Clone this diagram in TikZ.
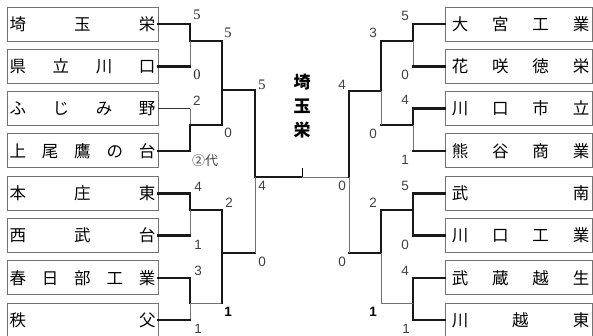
\documentclass[tikz,border=0pt]{standalone}
\usepackage{fontspec}
\newfontfamily\jpfont{Noto Sans CJK JP}
\newfontfamily\numfont{Liberation Sans}
\newfontfamily\numserif{Liberation Serif}
\newcommand{\lname}[1]{\makebox[146pt][s]{#1}}
\newcommand{\rname}[1]{\hspace*{4pt}\makebox[137.5pt][s]{#1}}
\tikzset{
  teamleft/.style={draw=black!55, line width=0.9pt, minimum width=151pt, minimum height=34pt, inner sep=0pt, font=\jpfont\fontsize{16.5}{16.5}\selectfont},
  teamright/.style={teamleft, minimum width=147pt},
  win/.style={line width=2.6pt, black!90, line cap=rect},
  lose/.style={line width=0.7pt, black!55},
  score/.style={inner sep=0pt, text=black!75, font=\numfont\fontsize{13.5}{13.5}\selectfont},
  scoreserif/.style={score, text=black!85, font=\numserif\fontsize{14.5}{14.5}\selectfont},
  scorebold/.style={score, text=black, font=\numfont\bfseries\fontsize{13.5}{13.5}\selectfont}
}

\begin{document}
\begin{tikzpicture}[x=1pt, y=-1pt]
  \useasboundingbox (0,0) rectangle (593,335);
  % draw team boxes on the left
  \node[teamleft] (team_left0) at (82.5,24) {\lname{埼\hfill 玉\hfill 栄}};
  \node[teamleft] (team_left1) at (82.5,66.3) {\lname{県\hfill 立\hfill 川\hfill 口}};
  \node[teamleft] (team_left2) at (82.5,108.6) {\lname{ふ\hfill じ\hfill み\hfill 野}};
  \node[teamleft] (team_left3) at (82.5,150.9) {\lname{上\hfill 尾\hfill 鷹\hfill の\hfill 台}};
  \node[teamleft] (team_left4) at (82.5,193.2) {\lname{本\hfill 庄\hfill 東}};
  \node[teamleft] (team_left5) at (82.5,235.5) {\lname{西\hfill 武\hfill 台}};
  \node[teamleft] (team_left6) at (82.5,277.8) {\lname{春\hfill 日\hfill 部\hfill 工\hfill 業}};
  \node[teamleft] (team_left7) at (82.5,320.1) {\lname{秩\hfill 父}};
  % draw team boxes on the right
  \node[teamright] (team_right0) at (518.5,24) {\rname{大\hfill 宮\hfill 工\hfill 業}};
  \node[teamright] (team_right1) at (518.5,66.3) {\rname{花\hfill 咲\hfill 徳\hfill 栄}};
  \node[teamright] (team_right2) at (518.5,108.6) {\rname{川\hfill 口\hfill 市\hfill 立}};
  \node[teamright] (team_right3) at (518.5,150.9) {\rname{熊\hfill 谷\hfill 商\hfill 業}};
  \node[teamright] (team_right4) at (518.5,193.2) {\rname{武\hfill 南}};
  \node[teamright] (team_right5) at (518.5,235.5) {\rname{川\hfill 口\hfill 工\hfill 業}};
  \node[teamright] (team_right6) at (518.5,277.8) {\rname{武\hfill 蔵\hfill 越\hfill 生}};
  \node[teamright] (team_right7) at (518.5,320.1) {\rname{川\hfill 越\hfill 東}};
  % junction points of the bracket
  \coordinate (q_left0) at (190,41);
  \coordinate (q_left1) at (190,125);
  \coordinate (q_left2) at (190,210);
  \coordinate (q_left3) at (190,303);
  \coordinate (s_left0) at (222,90);
  \coordinate (s_left1) at (222,253);
  \coordinate (f_left) at (255,177);
  \coordinate (champ) at (302,177);
  \coordinate (champ_tick) at (302,168);
  \coordinate (f_right) at (349,177);
  \coordinate (s_right0) at (381,91);
  \coordinate (s_right1) at (381,253);
  \coordinate (q_right0) at (413,41);
  \coordinate (q_right1) at (413,125);
  \coordinate (q_right2) at (413,210);
  \coordinate (q_right3) at (413,303);
  % draw first round on the left
  \draw[win] (team_left0.east) -| (q_left0) -- (q_left0 -| s_left0);
  \draw[lose] (q_left0) -- (q_left0 |- team_left1.east);
  \draw[win] (team_left1.east) -- (q_left0 |- team_left1.east);
  \draw[line width=1.4pt, black!80] (team_left2.east) -- (q_left1 |- team_left2.east);
  \draw[lose] (q_left1 |- team_left2.east) -- (q_left1);
  \draw[win] (team_left3.east) -| (q_left1) -- (q_left1 -| s_left0);
  \draw[win] (team_left4.east) -| (q_left2) -- (q_left2 -| s_left1);
  \draw[lose] (q_left2) -- (q_left2 |- team_left5.east);
  \draw[win] (team_left5.east) -- (q_left2 |- team_left5.east);
  \draw[win] (team_left6.east) -| (q_left3);
  \draw[lose] (q_left3) -- (q_left3 |- team_left7.east);
  \draw[lose] (q_left3) -- (q_left3 -| s_left1);
  \draw[win] (team_left7.east) -- (q_left3 |- team_left7.east);
  % draw later rounds on the left
  \draw[win] (q_left0 -| s_left0) -- (q_left1 -| s_left0);
  \draw[win] (s_left0) -- (s_left0 -| f_left);
  \draw[win] (q_left2 -| s_left1) -- (q_left3 -| s_left1);
  \draw[win] (s_left1) -- (s_left1 -| f_left);
  \draw[win] (s_left0 -| f_left) -- (f_left) -- (champ);
  \draw[lose] (f_left) -- (s_left1 -| f_left);
  \draw[line width=1pt] (champ) -- (champ_tick);
  \draw[lose] (champ) -- (f_right);
  % draw first round on the right
  \draw[win] (team_right0.west) -| (q_right0) -- (q_right0 -| s_right0);
  \draw[lose] (q_right0) -- (q_right0 |- team_right1.west);
  \draw[win] (team_right1.west) -- (q_right0 |- team_right1.west);
  \draw[win] (team_right2.west) -| (q_right1) -- (q_right1 -| s_right0);
  \draw[lose] (q_right1) -- (q_right1 |- team_right3.west);
  \draw[win] (team_right3.west) -- (q_right1 |- team_right3.west);
  \draw[win] (team_right4.west) -| (q_right2 |- team_right5.west) -- (team_right5.west);
  \draw[win] (q_right2) -- (q_right2 -| s_right1);
  \draw[win] (team_right6.west) -| (q_right3 |- team_right7.west) -- (team_right7.west);
  \draw[lose] (q_right3) -- (q_right3 -| s_right1);
  % draw later rounds on the right
  \draw[win] (q_right0 -| s_right0) -- (s_right0) -- (s_right0 -| f_right);
  \draw[lose] (s_right0) -- (q_right1 -| s_right0);
  \draw[win] (q_right2 -| s_right1) -- (s_right1) -- (s_right1 -| f_right);
  \draw[lose] (s_right1) -- (q_right3 -| s_right1);
  \draw[win] (s_right0 -| f_right) -- (f_right);
  \draw[lose] (f_right) -- (s_right1 -| f_right);
  % champion name
  \node[inner sep=0pt, align=center, font=\jpfont\bfseries\fontsize{17}{24}\selectfont] (champ_name) at (302,106) {埼\\玉\\栄};
  % scores on the left
  \node[scoreserif] (sc_left0) at (197,15) {5};
  \node[scoreserif] (sc_left1) at (197,75) {0};
  \node[score] (sc_left2) at (197,101) {2};
  \node[inner sep=0pt, text=black!75, font=\jpfont\fontsize{13}{13}\selectfont] (sc_left3) at (205,161) {②代};
  \node[score] (sc_left4) at (198,187) {4};
  \node[score] (sc_left5) at (198,245) {1};
  \node[score] (sc_left6) at (198,271) {3};
  \node[score] (sc_left7) at (198,328.5) {1};
  \node[scoreserif] (sc_left_r2a) at (228,33) {5};
  \node[score] (sc_left_r2b) at (228,133) {0};
  \node[score] (sc_left_r2c) at (229,203) {2};
  \node[scorebold] (sc_left_r2d) at (228,312) {1};
  \node[scoreserif] (sc_left_r3a) at (262,85) {5};
  \node[score] (sc_left_r3b) at (262,262) {0};
  \node[score] (sc_final_left) at (262,186) {4};
  % scores on the right
  \node[score] (sc_final_right) at (342,186) {0};
  \node[score] (sc_right_r3a) at (342,85) {4};
  \node[score] (sc_right_r3b) at (342,262) {0};
  \node[score] (sc_right_r2a) at (373,33) {3};
  \node[score] (sc_right_r2b) at (373,134) {0};
  \node[score] (sc_right_r2c) at (373,203) {2};
  \node[scorebold] (sc_right_r2d) at (373,312) {1};
  \node[score] (sc_right0) at (405,16) {5};
  \node[score] (sc_right1) at (405,75) {0};
  \node[score] (sc_right2) at (405,100) {4};
  \node[score] (sc_right3) at (405,160) {1};
  \node[score] (sc_right4) at (405,186) {5};
  \node[score] (sc_right5) at (405,245) {0};
  \node[score] (sc_right6) at (405,271) {4};
  \node[score] (sc_right7) at (406,328.5) {1};
\end{tikzpicture}
\end{document}
